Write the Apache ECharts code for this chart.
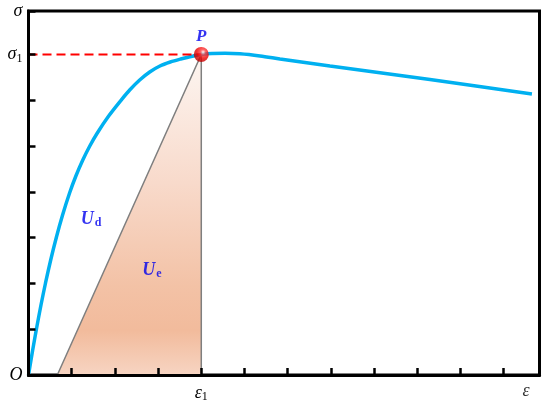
<!DOCTYPE html>
<html>
<head>
<meta charset="utf-8">
<script src="https://cdn.jsdelivr.net/npm/echarts@6/dist/echarts.min.js"></script>
<style>html,body{margin:0;padding:0;background:#fff;}#c{width:550px;height:406px;}</style>
</head>
<body>
<div id="c"></div>
<script>
// Stress-strain curve (x = strain, y = stress)
const curveX = [0, 0.093, 0.188, 0.289, 0.394, 0.514, 0.647, 0.789, 0.951, 1.097, 1.257, 1.419, 1.593, 1.856, 2.146, 2.343, 2.574, 2.806, 3.042, 3.282, 3.525, 3.711, 3.866, 4.0,
                4.248, 4.549, 4.896, 5.359, 5.822, 6.400, 6.979, 9.294, 11.655];
const curveY = [0, 0.524, 1.026, 1.528, 2.009, 2.511, 3.013, 3.493, 3.974, 4.345, 4.694, 5.0, 5.284, 5.655, 6.004, 6.223, 6.441, 6.616, 6.747, 6.834, 6.900, 6.943, 6.976, 7.0,
                7.02, 7.026, 7.013, 6.965, 6.900, 6.823, 6.747, 6.452, 6.135];
// Peak point P
const peakX = 4, peakY = 7;
// Elastic energy triangle
const triX = [0.667, 4, 4];
const triY = [0, 7, 0];
// Axis label values and texts
const yMax = 7.948;
const yLabelValues = [0, 7, yMax];
const yLabelTexts = ['{i|O}', '{i|σ}{sub|1}', '{i|σ}'];
const xLabelValues = [4];
const xLabelTexts = ['{i|ε}{sub|1}'];
const epsX = 11.52;
// Region labels
const regionLabels = [
  {name: 'd', x: 1.447, y: 3.406},
  {name: 'e', x: 2.859, y: 2.293}
];

const serif = "'Liberation Serif','Times New Roman',serif";
const axisRich = {
  i: {fontFamily: serif, fontStyle: 'italic', fontSize: 18, color: '#000'},
  sub: {fontFamily: serif, fontSize: 12, color: '#000', padding: [8, 0, 0, 0]}
};
const blue = '#0000ee';

const chart = echarts.init(document.getElementById('c'));
chart.setOption({
  animation: false,
  backgroundColor: '#fff',
  grid: {left: 28.5, right: 10.5, top: 11, bottom: 31, show: true, borderColor: '#000', borderWidth: 3, backgroundColor: 'transparent'},
  xAxis: {
    type: 'value', min: 0, max: 11.83, interval: 1, z: 10,
    axisLine: {lineStyle: {color: '#000', width: 3}},
    axisTick: {inside: true, length: 7, lineStyle: {color: '#000', width: 2.5}},
    splitLine: {show: false},
    axisLabel: {
      margin: 8, showMaxLabel: false,
      formatter: v => { const k = xLabelValues.indexOf(Math.round(v * 100) / 100); return k >= 0 ? xLabelTexts[k] : ''; },
      rich: axisRich
    }
  },
  yAxis: {
    type: 'value', min: 0, max: yMax, interval: 1, z: 10,
    axisLine: {lineStyle: {color: '#000', width: 3}},
    axisTick: {inside: true, length: 7, lineStyle: {color: '#000', width: 2.5}},
    splitLine: {show: false},
    axisLabel: {
      margin: 6, showMaxLabel: true,
      formatter: v => { const k = yLabelValues.findIndex(t => Math.abs(t - v) < 1e-6); return k >= 0 ? yLabelTexts[k] : ''; },
      rich: axisRich
    }
  },
  series: [
    {
      type: 'custom',
      data: [0],
      z: 1,
      clip: false,
      renderItem: (params, api) => {
        const pts = triX.map((x, i) => api.coord([x, triY[i]]));
        return {
          type: 'polygon',
          shape: {points: pts},
          style: {
            fill: new echarts.graphic.LinearGradient(0, 0, 0, 1, [
              {offset: 0, color: '#FDF6F2'},
              {offset: 0.4, color: '#F8DACB'},
              {offset: 0.72, color: '#F3C2A6'},
              {offset: 0.86, color: '#F2BB9C'},
              {offset: 1, color: '#F7D5C3'}
            ]),
            stroke: '#7F7F7F',
            lineWidth: 1.5
          }
        };
      }
    },
    {
      type: 'line',
      data: curveX.map((x, i) => [x, curveY[i]]),
      smooth: 0.3,
      showSymbol: false,
      z: 3,
      lineStyle: {color: '#00B0F0', width: 3.5}
    },
    {
      type: 'line',
      data: [[0, peakY], [peakX, peakY]],
      showSymbol: false,
      z: 4,
      lineStyle: {color: '#FF0000', width: 2, type: [9, 5]}
    },
    {
      type: 'scatter',
      data: [[peakX, peakY]],
      z: 6,
      symbolSize: 15,
      itemStyle: {
        color: new echarts.graphic.RadialGradient(0.62, 0.35, 0.7, [
          {offset: 0, color: '#ffffff'},
          {offset: 0.25, color: '#ff4040'},
          {offset: 0.6, color: '#f00000'},
          {offset: 1, color: '#b00000'}
        ])
      },
      label: {
        show: true, position: 'top', distance: 2,
        formatter: 'P',
        fontFamily: serif, fontStyle: 'italic', fontWeight: 'bold', fontSize: 17, color: blue
      }
    },
    {
      type: 'scatter',
      data: regionLabels.map(r => ({value: [r.x, r.y], name: r.name})),
      symbolSize: 0,
      z: 7,
      label: {
        show: true, position: 'inside',
        formatter: p => '{u|U}{s|' + p.name + '}',
        rich: {
          u: {fontFamily: serif, fontStyle: 'italic', fontWeight: 'bold', fontSize: 18, color: blue},
          s: {fontFamily: serif, fontWeight: 'bold', fontSize: 12, color: blue, padding: [7, 0, 0, 1]}
        }
      }
    },
    {
      type: 'scatter',
      data: [[epsX, 0]],
      symbolSize: 0,
      clip: false,
      z: 7,
      label: {
        show: true, position: 'bottom', distance: 7,
        formatter: '{i|ε}',
        rich: axisRich
      }
    }
  ]
});
</script>
</body>
</html>
